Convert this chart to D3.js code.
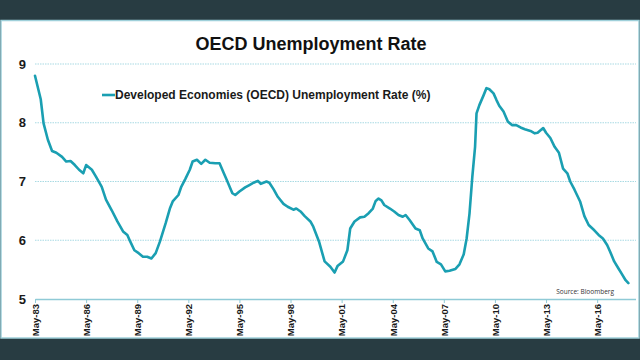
<!DOCTYPE html>
<html><head><meta charset="utf-8">
<script src="https://cdn.jsdelivr.net/npm/d3@7"></script>
<style>
html,body{margin:0;padding:0;background:#283c42;}
svg{display:block;font-family:"Liberation Sans",Arial,sans-serif;}
</style></head>
<body>
<svg id="c" width="640" height="360"></svg>
<script>
const title = "OECD Unemployment Rate";
const seriesName = "Developed Economies (OECD) Unemployment Rate (%)";
const source = "Source: Bloomberg";
const dates = ["1983-05","1983-09","1983-11","1984-02","1984-05","1984-08","1984-12","1985-03","1985-06","1985-09","1985-12","1986-03","1986-05","1986-09","1986-12","1987-04","1987-07","1987-11","1988-03","1988-07","1988-10","1988-12","1989-03","1989-06","1989-09","1989-12","1990-03","1990-06","1990-09","1991-01","1991-04","1991-06","1991-10","1991-12","1992-03","1992-06","1992-08","1992-11","1993-02","1993-05","1993-08","1993-12","1994-03","1994-06","1994-08","1994-12","1995-02","1995-05","1995-09","1995-12","1996-03","1996-06","1996-08","1996-12","1997-02","1997-05","1997-08","1997-12","1998-03","1998-07","1998-09","1998-12","1999-03","1999-07","1999-09","2000-01","2000-03","2000-05","2000-09","2000-12","2001-02","2001-06","2001-09","2001-11","2002-02","2002-06","2002-09","2002-12","2003-03","2003-05","2003-07","2003-09","2003-11","2004-03","2004-06","2004-09","2004-12","2005-02","2005-05","2005-09","2005-12","2006-02","2006-06","2006-09","2006-12","2007-03","2007-06","2007-09","2008-01","2008-04","2008-07","2008-09","2008-11","2009-01","2009-03","2009-04","2009-06","2009-09","2009-11","2010-01","2010-04","2010-06","2010-08","2010-11","2011-02","2011-05","2011-08","2011-11","2012-02","2012-06","2012-09","2012-11","2013-03","2013-05","2013-08","2013-11","2014-02","2014-05","2014-08","2014-10","2015-01","2015-05","2015-08","2015-11","2016-03","2016-06","2016-09","2016-12","2017-02","2017-05","2017-08","2017-10","2018-01","2018-03"];
const values = [8.80,8.40,7.99,7.71,7.52,7.49,7.42,7.34,7.35,7.28,7.20,7.14,7.28,7.20,7.08,6.91,6.69,6.51,6.32,6.15,6.09,5.98,5.83,5.78,5.72,5.72,5.69,5.78,5.98,6.29,6.54,6.66,6.77,6.91,7.05,7.20,7.34,7.37,7.30,7.37,7.32,7.31,7.31,7.14,7.03,6.80,6.77,6.83,6.90,6.94,6.98,7.01,6.96,7.00,6.98,6.87,6.74,6.62,6.57,6.52,6.54,6.49,6.41,6.32,6.23,5.98,5.81,5.64,5.55,5.45,5.56,5.64,5.83,6.20,6.32,6.39,6.40,6.46,6.54,6.67,6.71,6.68,6.60,6.54,6.49,6.43,6.40,6.43,6.34,6.20,6.17,6.03,5.86,5.81,5.63,5.59,5.47,5.48,5.51,5.59,5.76,6.03,6.45,7.08,7.59,8.16,8.30,8.47,8.59,8.57,8.50,8.39,8.29,8.19,8.02,7.96,7.96,7.92,7.89,7.86,7.82,7.83,7.91,7.83,7.74,7.59,7.49,7.22,7.14,7.00,6.86,6.66,6.41,6.26,6.17,6.09,6.03,5.92,5.81,5.64,5.52,5.44,5.32,5.27];
const xTickDates = ["1983-05","1986-05","1989-05","1992-05","1995-05","1998-05","2001-05","2004-05","2007-05","2010-05","2013-05","2016-05"];
const yTicks = [5,6,7,8,9];

const parse = d3.timeParse("%Y-%m");
const data = dates.map((d,i)=>({date:parse(d), v:values[i]}));

const svg = d3.select("#c");
// panel
svg.append("rect").attr("x",1).attr("y",20.5).attr("width",638).attr("height",317.5)
  .attr("fill","#ffffff").attr("stroke","#9fd0da").attr("stroke-width",1.5);

const x = d3.scaleTime().domain([parse("1983-05"), parse("2018-08")]).range([35, 635.5]);
const y = d3.scaleLinear().domain([5,9]).range([299,64]);

// gridlines
svg.append("g").selectAll("line").data(yTicks.filter(t=>t>5)).join("line")
  .attr("x1",35).attr("x2",636).attr("y1",d=>y(d)).attr("y2",d=>y(d))
  .attr("stroke","#a9dae3").attr("stroke-width",1.2).attr("stroke-dasharray","1.5,1");

// y axis labels
const yAxis = d3.axisLeft(y).tickValues(yTicks).tickSize(0).tickPadding(0).tickFormat(d3.format("d"));
const gy = svg.append("g").attr("transform","translate(26,0)").call(yAxis);
gy.select(".domain").remove();
gy.selectAll("text").attr("font-size",13).attr("font-weight","bold").attr("fill","#1a1a1a")
  .attr("font-family","Liberation Sans, Arial, sans-serif");

// x axis
const xAxis = d3.axisBottom(x).tickValues(xTickDates.map(parse)).tickSize(4).tickSizeOuter(0)
  .tickFormat(d3.timeFormat("%b-%y"));
const gx = svg.append("g").attr("transform","translate(0,299)").call(xAxis);
gx.select(".domain").attr("stroke","#8fcad6").attr("stroke-width",1.5);
gx.selectAll(".tick line").attr("stroke","#8fcad6");
gx.selectAll("text").attr("font-size",9.5).attr("font-weight","bold").attr("fill","#1a1a1a")
  .attr("font-family","Liberation Sans, Arial, sans-serif")
  .attr("transform","rotate(-90)").attr("text-anchor","end")
  .attr("x",-5).attr("y",0).attr("dy","0.35em");

// line
const line = d3.line().x(d=>x(d.date)).y(d=>y(d.v)).curve(d3.curveLinear);
svg.append("path").datum(data).attr("d",line).attr("fill","none")
  .attr("stroke","#1a9fb2").attr("stroke-width",2.6).attr("stroke-linejoin","round").attr("stroke-linecap","round");

// title
svg.append("text").attr("x",311).attr("y",50).attr("text-anchor","middle")
  .attr("font-size",18).attr("font-weight","bold").attr("fill","#111").text(title);

// legend
svg.append("line").attr("x1",102).attr("x2",115).attr("y1",95).attr("y2",95)
  .attr("stroke","#1a9fb2").attr("stroke-width",2.6);
svg.append("text").attr("x",115).attr("y",99).attr("font-size",12).attr("font-weight","bold")
  .attr("fill","#1a1a1a").text(seriesName);

// source
svg.append("text").attr("x",614).attr("y",294).attr("text-anchor","end")
  .attr("font-size",6.5).attr("fill","#333333").attr("font-family","Open Sans, sans-serif").text(source);
</script>
</body></html>
